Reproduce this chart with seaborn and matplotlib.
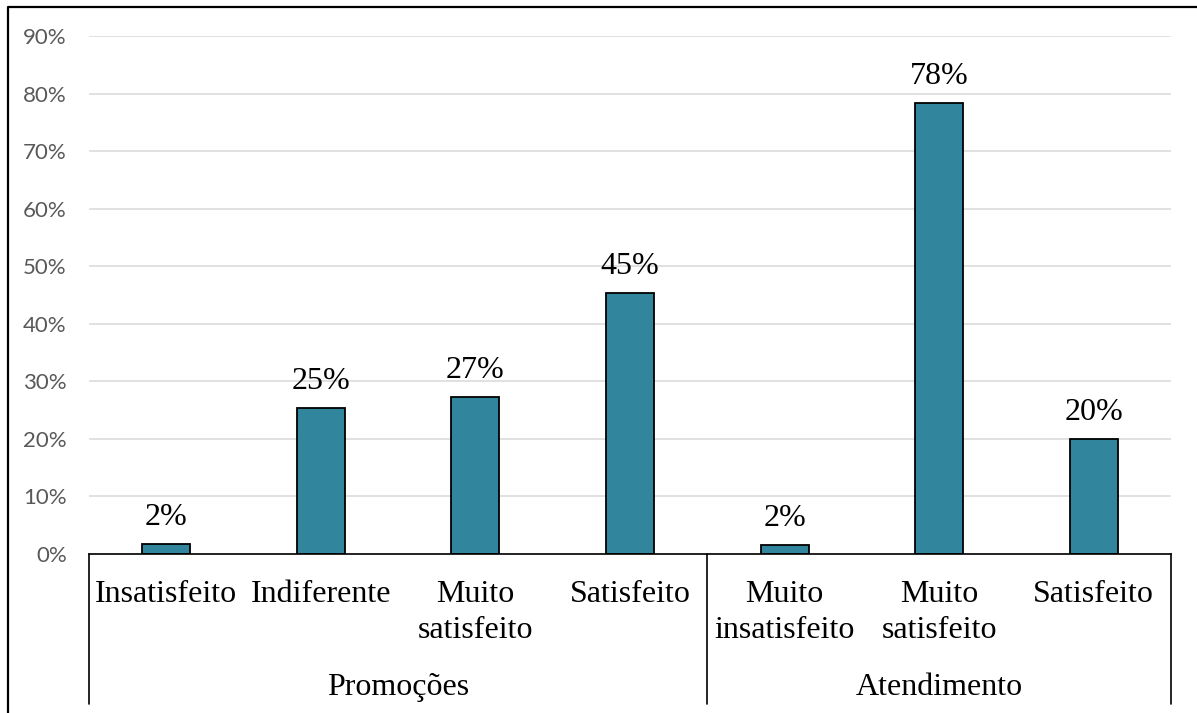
import matplotlib
matplotlib.use("Agg")
import matplotlib.pyplot as plt
import matplotlib.transforms as mtransforms
from matplotlib.lines import Line2D
from matplotlib.ticker import PercentFormatter, MultipleLocator
import seaborn as sns
import pandas as pd

# Survey results: satisfaction share per answer, grouped by topic
groups = ["Promoções", "Promoções", "Promoções", "Promoções",
          "Atendimento", "Atendimento", "Atendimento"]
categories = ["Insatisfeito", "Indiferente", "Muito\nsatisfeito", "Satisfeito",
              "Muito\ninsatisfeito", "Muito\nsatisfeito", "Satisfeito"]
values = [0.018, 0.254, 0.273, 0.454, 0.016, 0.783, 0.200]
group_names = ["Promoções", "Atendimento"]

df = pd.DataFrame({
    "slot": [f"{g}|{c}" for g, c in zip(groups, categories)],
    "group": groups,
    "category": categories,
    "value": values,
})

sns.set_theme(style="white")
plt.rcParams["font.family"] = ["Liberation Serif", "DejaVu Serif"]

W, H = 1197, 713
fig = plt.figure(figsize=(W / 100, H / 100), dpi=100)
ax = fig.add_axes([89 / W, (H - 554) / H, (1171 - 89) / W, (554 - 36) / H])

bar_color = "#31859C"
sns.barplot(data=df, x="slot", y="value", order=list(df["slot"]),
            color=bar_color, saturation=1, width=0.31,
            edgecolor="black", linewidth=1.3, ax=ax, zorder=3)

ax.set_xlim(-0.5, len(df) - 0.5)
ax.set_ylim(0, 0.9)
ax.yaxis.set_major_locator(MultipleLocator(0.1))
ax.yaxis.set_major_formatter(PercentFormatter(1.0, decimals=0))
ax.grid(axis="y", color="#D9D9D9", linewidth=1.1, zorder=0)
ax.set_axisbelow(True)
ax.set_xlabel("")
ax.set_ylabel("")
ax.set_xticks([])
ax.tick_params(axis="y", length=0, pad=16, labelsize=16, labelcolor="#595959")
for lab in ax.get_yticklabels():
    lab.set_fontfamily(["Lato", "DejaVu Sans"])
for side in ["top", "right", "left"]:
    ax.spines[side].set_visible(False)
ax.spines["bottom"].set_color("black")
ax.spines["bottom"].set_linewidth(1.2)
ax.spines["bottom"].set_zorder(4)

# Value labels above bars
for i, v in enumerate(df["value"]):
    ax.annotate(f"{round(v * 100):.0f}%", xy=(i, v), xytext=(0, 13.7),
                textcoords="offset points", ha="center", va="baseline",
                fontsize=23, color="black")

# Category labels and group labels below the axis
tr = mtransforms.blended_transform_factory(ax.transData, fig.transFigure)
line_y = [(H - 601.5) / H, (H - 638) / H]
for i, c in enumerate(df["category"]):
    for j, part in enumerate(c.split("\n")):
        ax.text(i, line_y[j], part, transform=tr, ha="center", va="baseline",
                fontsize=23, color="black")

start = 0
bounds = [-0.5]
for g in group_names:
    n = sum(1 for x in groups if x == g)
    center = start + (n - 1) / 2
    ax.text(center, (H - 695) / H, g, transform=tr, ha="center", va="baseline",
            fontsize=23, color="black")
    start += n
    bounds.append(start - 0.5)

# Group separators
for b in bounds:
    ax.add_line(Line2D([b, b], [(H - 554) / H, (H - 704) / H], transform=tr,
                       color="black", linewidth=1.2, clip_on=False))

# Outer frame (left and top edges)
fig.add_artist(Line2D([7.5 / W, 7.5 / W, 1.0], [0.0, (H - 7) / H, (H - 7) / H],
                      transform=fig.transFigure, color="black", linewidth=1.6))

fig.savefig("out.png", dpi=100, facecolor="white")
